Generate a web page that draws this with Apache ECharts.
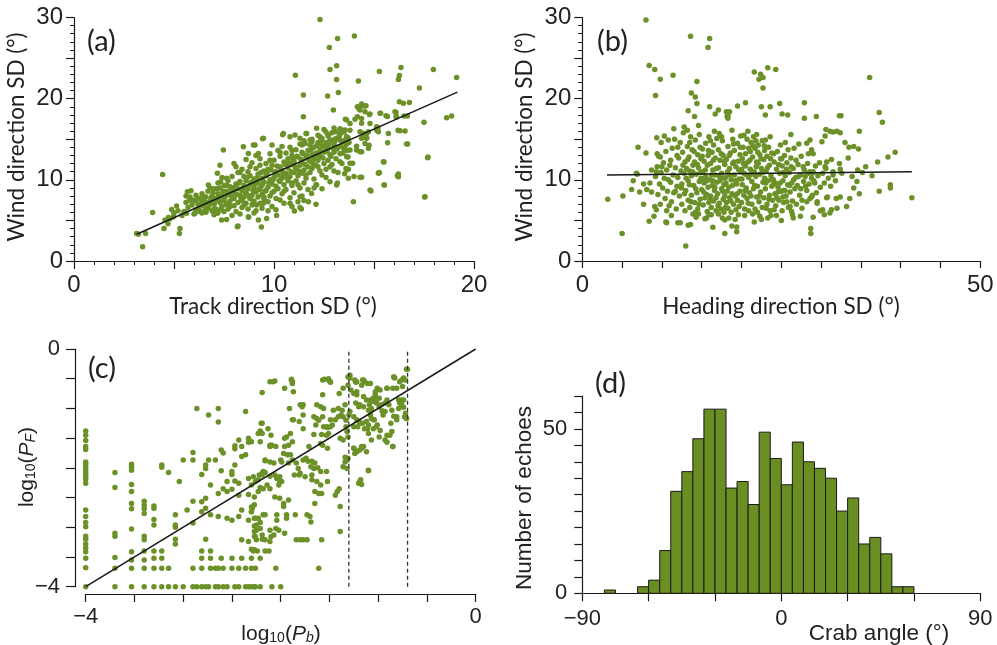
<!DOCTYPE html>
<html><head><meta charset="utf-8">
<script src="https://cdn.jsdelivr.net/npm/echarts@6/dist/echarts.min.js"></script>
<style>html,body{margin:0;padding:0;background:#fff}#c{width:997px;height:645px}</style>
</head><body><div id="c"></div>
<script>
// ---------- Panel (a): Track direction SD vs Wind direction SD ----------
const pointsA = [
[12.3,29.76],[13.18,27.42],[14.02,27.71],[12.77,26.31],
[13.13,24.05],[12.8,23.6],[13.13,22.37],[14.22,22.17],[15.27,23.36],[16.35,23.85],[16.27,22.86],[16.22,22.37],[17.97,23.6],[19.13,22.62],[11.07,22.9],
[11.47,20.44],[12.68,20.32],[13.22,20.77],[17.27,21.3],
[12.97,18.6],[14.17,19.0],[14.38,19.33],[14.6,19.13],[14.3,18.6],[14.17,17.78],[14.05,17.45],[14.77,18.06],[15.3,18.19],[15.6,17.9],[16.27,19.62],[16.47,19.42],[16.77,19.54],[16.05,18.39],[16.1,17.78],[16.67,17.86],[13.57,17.45],[18.63,17.65],[18.88,17.86],[11.47,17.78],
[14.55,18.39],[14.8,18.1],[15.33,18.19],[16.13,17.78],
[14.38,17.57],[14.38,16.96],[14.47,15.72],[14.72,15.93],[15.22,15.93],[15.13,16.54],[15.72,15.72],[16.3,16.05],[16.55,16.01],[15.68,14.57],[16.68,14.41],[17.5,17.08],
[14.38,15.11],[14.63,15.11],[14.55,14.49],[14.72,13.88],[14.38,13.47],
[15.47,12.23],[15.27,10.88],[16.22,10.72],[16.22,10.39],[15.52,9.36],[14.85,8.62],[17.55,7.92],[17.68,12.73],[14.3,10.31],
[13.63,17.37],[13.8,16.95],[14.8,16.95],[13.55,16.13],[14.3,15.93],[14.63,15.72],[15.13,16.13],
[12.13,16.34],[12.3,15.31],[12.72,15.52],[13.1,15.93],[13.38,16.13],[13.63,15.31],[13.3,14.9],[12.97,14.9],
[11.63,15.72],[11.8,14.9],[11.55,14.49],[11.3,15.11],[11.05,15.52],[10.8,15.31],[10.47,15.72],[10.43,15.55],[9.47,15.11],[8.97,14.29],
[14.13,13.67],[13.8,13.67],[13.63,12.85],[13.3,12.23],[13.8,12.03],[13.63,11.21],[14.38,10.31],[13.72,10.18],[12.8,9.77],[13.13,9.36],[14.8,8.74],[13.97,7.31],[15.22,10.8],
[12.13,9.36],[11.88,8.33],[11.72,7.31],[11.3,7.92],[10.8,7.1],[10.3,7.51],[9.47,7.1],[9.13,6.9],
[12.1,7.0],[11.5,7.45],[11.37,6.4],[11.02,6.15],[10.13,5.6],[9.37,4.2],[9.63,5.25],[8.2,4.3],[8.73,5.4],[7.63,5.1],
[4.43,10.67],[3.93,5.99],[3.43,1.75],[3.13,3.4],[3.22,3.3],[3.58,3.4],[5.27,3.4],[5.3,4.0],[4.5,4.0],
[4.55,5.05],[4.72,5.37],[4.97,5.45],[4.88,6.36],[5.13,6.77],
[5.67,8.53],[5.85,8.66],[5.77,7.5],[5.97,7.5],[5.63,5.87],[6.05,5.87],[6.22,6.48],[6.38,7.1],[6.55,7.9],[6.55,6.28],[6.8,7.18],[6.97,6.36],[7.1,7.5],
[6.72,9.36],[7.17,10.8],[7.3,11.8],[7.47,13.67],[7.33,9.77],[7.63,10.18],[7.8,9.15],
[7.17,5.87],[7.38,5.05],[8.17,4.22],[8.72,5.45],[9.22,5.05],
[8.47,14.08],[8.72,13.25],[9.05,14.28],[9.22,13.25],[9.43,15.05],
[16.63,14.4],[16.2,16.1],[17.53,7.9],[17.7,12.8],[16.1,18.3],[16.5,17.85],[15.67,17.8],[14.33,19.1],[14.52,19.1],[14.25,18.75],[15.25,10.9],[15.5,12.2],[15.5,9.35],[16.17,10.5],[15.2,16.45],[14.63,15.2],[14.75,14.25],[14.13,14.15],[14.3,13.45],[14.0,10.4],[13.72,11.3],[13.53,10.75],[13.93,12.05],[13.17,9.6],
[5.6,7.2],[5.7,6.6],[5.8,7.9],[5.9,6.9],[6.0,7.4],[6.1,8.1],[6.1,6.3],[6.2,7.0],[6.3,7.7],[6.3,6.1],[6.4,8.3],[6.5,6.8],[6.5,7.4],[5.5,6.1],[5.4,5.6],[5.2,6.2],[5.0,5.9],[4.8,5.2],[4.7,4.6],[5.6,8.0],[6.0,5.8],[6.6,6.0],
[6.6,7.9],[6.7,6.5],[6.7,8.6],[6.8,7.3],[6.9,6.2],[6.9,8.0],[7.0,7.0],[7.0,8.9],[7.1,6.4],[7.1,7.7],[7.2,8.3],[7.2,6.0],[7.3,7.2],[7.3,9.0],[7.4,6.7],[7.4,8.0],[7.5,7.5],[7.5,9.3],[7.5,6.1],[6.8,9.0],[7.0,5.7],[7.2,9.6],
[7.6,8.6],[7.6,7.0],[7.7,9.9],[7.7,6.4],[7.8,8.1],[7.8,7.4],[7.9,9.0],[7.9,10.4],[8.0,6.8],[8.0,8.5],[8.0,7.7],[8.1,9.5],[8.1,6.1],[8.2,8.9],[8.2,7.2],[8.2,10.9],[8.3,8.1],[8.3,9.8],[8.4,7.5],[8.4,6.6],[8.4,8.7],[8.5,9.3],[8.5,10.4],[8.5,7.9],[7.7,8.3],[8.1,11.6],[8.3,5.8],[7.9,5.6],[8.0,12.0],[8.4,11.3],
[8.6,8.4],[8.6,7.1],[8.6,9.9],[8.7,8.9],[8.7,6.4],[8.7,11.0],[8.8,7.7],[8.8,9.4],[8.8,10.5],[8.9,8.1],[8.9,6.9],[8.9,12.1],[9.0,9.0],[9.0,7.4],[9.0,10.1],[9.1,8.5],[9.1,11.4],[9.1,6.2],[9.2,9.6],[9.2,7.9],[9.2,10.7],[9.3,8.8],[9.3,12.6],[9.3,7.1],[9.4,9.3],[9.4,10.2],[9.4,8.2],[9.5,11.1],[9.5,9.7],[9.5,7.6],[8.6,12.5],[9.0,5.9],[9.4,6.5],[9.1,13.0],
[9.6,8.7],[9.6,10.5],[9.6,12.0],[9.7,9.1],[9.7,7.3],[9.7,11.3],[9.8,8.0],[9.8,10.0],[9.8,13.2],[9.9,9.5],[9.9,11.8],[9.9,6.7],[10.0,10.3],[10.0,8.6],[10.0,12.4],[10.1,9.2],[10.1,11.0],[10.1,7.7],[10.2,10.6],[10.2,13.6],[10.2,8.9],[10.3,9.8],[10.3,11.6],[10.3,12.9],[10.4,10.2],[10.4,8.3],[10.4,11.2],[10.5,9.4],[10.5,12.2],[10.5,7.1],[9.7,6.2],[10.1,6.3],[10.4,14.1],[9.9,14.3],
[10.6,10.8],[10.6,13.3],[10.6,8.8],[10.7,11.5],[10.7,9.9],[10.7,12.6],[10.8,10.4],[10.8,14.0],[10.8,7.8],[10.9,11.9],[10.9,9.3],[10.9,13.0],[11.0,10.9],[11.0,12.3],[11.0,8.4],[11.1,11.4],[11.1,13.7],[11.1,9.9],[11.2,12.8],[11.2,10.5],[11.2,7.3],[11.3,11.8],[11.3,14.4],[11.3,9.0],[11.4,12.2],[11.4,10.8],[11.4,13.4],[11.5,11.2],[11.5,9.6],[11.5,14.8],[10.9,6.7],[11.3,6.6],[11.4,8.0],
[11.6,12.7],[11.6,10.2],[11.7,13.6],[11.7,11.6],[11.7,8.8],[11.8,12.3],[11.8,14.3],[11.8,10.9],[11.9,13.1],[11.9,11.4],[11.9,15.0],[12.0,12.6],[12.0,10.1],[12.0,14.0],[12.1,13.3],[12.1,11.8],[12.1,9.4],[12.2,14.6],[12.2,12.4],[12.2,15.5],[12.3,13.7],[12.3,11.1],[12.3,12.9],[12.4,14.2],[12.4,10.6],[12.4,15.1],[12.5,13.4],[12.5,12.0],[12.5,16.2],[11.6,15.7],[12.0,9.0],[12.4,8.9],
[12.6,14.6],[12.6,11.3],[12.7,13.9],[12.7,15.4],[12.7,12.4],[12.8,14.9],[12.8,13.1],[12.9,15.8],[12.9,11.9],[13.0,14.4],[13.0,13.4],[13.0,16.4],[13.1,15.1],[13.1,12.6],[13.2,14.0],[13.2,10.9],[13.3,15.6],[13.3,13.2],[13.4,14.7],[13.4,12.0],[13.5,15.9],[13.5,13.8],[13.6,14.3],[13.6,11.4],[13.7,15.2],[13.7,12.8],[12.6,10.3],[13.0,11.1],[13.3,16.3],[13.8,16.1],
[6.15,7.6],[6.25,6.6],[6.45,7.9],[6.6,7.2],[6.75,6.9],[6.85,7.7],[6.95,8.4],[6.4,5.9],
[7.05,7.3],[7.15,8.9],[7.25,7.8],[7.35,6.4],[7.45,8.6],[7.55,7.9],[7.65,9.3],[7.75,7.1],[7.85,8.7],[7.95,7.9],[7.4,10.3],[7.8,6.7],
[8.05,9.1],[8.15,8.2],[8.25,9.6],[8.35,7.7],[8.45,9.0],[8.55,8.5],[8.65,10.3],[8.75,8.0],[8.85,9.7],[8.95,8.7],[8.3,10.9],[8.8,11.6],[8.5,6.9],[8.95,7.2],
[9.05,9.5],[9.15,10.2],[9.25,8.9],[9.35,10.9],[9.45,9.9],[9.55,8.6],[9.65,10.8],[9.75,9.6],[9.85,11.2],[9.95,10.0],[9.3,11.8],[9.8,12.4],[9.5,7.9],[9.9,8.4],
[10.05,10.9],[10.15,11.7],[10.25,9.9],[10.35,11.2],[10.45,10.7],[10.55,11.9],[10.65,10.3],[10.75,12.1],[10.85,11.0],[10.95,12.6],[10.3,13.4],[10.9,13.6],[10.5,8.6],[10.9,9.6],
[11.05,11.6],[11.15,12.9],[11.25,11.1],[11.35,12.5],[11.45,13.2],[11.55,11.9],[11.65,13.0],[11.75,12.4],[11.85,13.7],[11.95,12.0],[11.4,14.3],[11.9,14.7],[11.6,10.6],[11.2,9.4],
[12.05,13.0],[12.15,14.2],[12.25,13.1],[12.35,14.8],[12.45,12.7],[12.55,14.0],[12.65,13.5],[12.75,14.4],[12.85,12.9],[12.95,13.9],[12.2,11.6],[12.8,11.6],[12.6,15.9],
[13.05,14.8],[13.15,13.8],[13.25,15.3],[13.35,14.1],[13.45,13.3],[13.55,14.9],[13.65,13.6],[13.75,14.6],[13.4,16.0]
];
const fitA = [[3.13,3.3],[19.17,20.8]];

// ---------- Panel (b): Heading direction SD vs Wind direction SD ----------
const pointsB = [
[8.0,29.7],[13.6,27.7],[16.0,27.4],[15.8,26.3],[8.4,24.1],[9.1,23.6],[9.8,22.4],[11.4,22.9],[9.2,20.4],
[13.7,20.7],[14.2,20.2],[14.4,22.1],[13.3,18.5],[14.1,17.8],[16.7,18.1],[18.2,17.8],[18.1,18.4],[14.4,19.4],[16.0,19.0],[17.1,18.6],[18.3,18.0],[18.3,17.6],[18.5,18.4],[19.5,19.1],[20.5,19.5],
[21.6,23.3],[22.2,22.4],[22.4,23.0],[22.7,22.6],[23.3,23.8],[24.3,23.6],[22.7,21.3],[23.6,19.0],[22.5,19.0],[23.0,18.0],[24.8,19.4],[25.1,18.1],[25.8,18.0],[27.9,19.5],[27.9,17.6],[29.4,17.8],[32.3,17.9],[32.5,17.9],[36.1,22.6],[37.3,18.3],[37.7,17.1],
[39.3,13.4],[38.4,12.8],[37.1,12.2],[38.7,9.4],[38.7,9.0],[37.3,8.6],[41.4,7.8],[35.6,11.6],[34.8,16.0],[34.7,13.8],[34.1,14.1],[33.5,14.0],[33.0,14.6],[32.4,15.8],[32.0,16.0],[31.5,15.9],[31.1,16.0],[32.4,11.3],[32.6,10.8],[31.5,11.0],[32.3,12.0],[30.7,12.2],[30.5,11.6],[30.5,15.4],[30.6,16.2],[30.1,14.7],[28.8,13.7],[29.0,13.2],[28.6,14.9],[28.2,14.5],[28.8,10.2],[29.2,9.6],[28.9,8.1],[35.2,10.9],[33.9,10.4],[33.4,12.7],[34.6,11.2],[36.4,10.5],
[13.0,1.85],[16.4,4.15],[17.9,3.4],[18.8,4.3],[19.4,4.2],[19.4,3.6],[10.6,4.7],[12.0,4.7],[13.3,4.4],[14.6,5.8],[15.6,5.3],[17.9,5.05],[21.6,4.8],[22.5,5.1],[23.7,5.6],[25.0,5.0],[26.5,5.3],[27.4,5.5],[28.7,4.0],[28.7,3.4],[29.0,5.4],[30.4,5.7],[31.1,5.9],[31.3,6.3],[32.0,6.5],[30.2,6.3],[29.9,6.2],[33.2,6.7],[33.6,7.7],[34.1,9.0],[34.8,8.3],[34.5,9.8],[32.4,7.9],[31.9,7.7],[30.7,7.8],[28.6,7.7],[29.5,7.3],[28.2,7.3],[27.6,6.5],[26.4,5.7],[26.3,6.1],[26.1,6.7],[25.3,8.7],[25.7,7.3],[25.2,7.9],[24.6,8.5],[24.0,9.4],
[3.2,7.6],[5.1,8.0],[5.0,3.4],[7.0,14.0],[6.9,10.7],[7.2,8.5],[7.7,7.0],[8.1,8.8],[8.4,4.9],[8.5,9.6],[8.7,8.5],[9.0,5.5],[9.1,6.7],[9.3,11.0],[9.4,13.2],[9.8,12.8],[7.7,9.5],[8.7,11.2],[6.8,10.8],[8.0,13.3],[9.35,15.2],[6.4,9.9],[6.2,8.8],
[9.2,10.4],[9.4,11.6],[9.5,8.2],[9.6,12.9],[9.7,9.5],[9.8,7.0],[9.9,10.9],[9.3,6.3],[9.9,14.6],
[10.1,9.0],[10.2,12.1],[10.3,10.2],[10.4,7.7],[10.5,13.5],[10.6,11.2],[10.7,8.6],[10.8,14.9],[10.9,6.8],[10.3,15.4],[10.5,4.8],[10.8,10.0],
[11.1,9.7],[11.1,12.4],[11.2,7.3],[11.3,13.9],[11.4,10.6],[11.5,8.4],[11.6,15.0],[11.7,11.5],[11.8,6.4],[11.9,13.0],[11.2,5.6],[11.9,9.2],[11.5,16.3],
[12.0,10.3],[12.1,12.7],[12.2,8.0],[12.3,14.6],[12.4,11.1],[12.5,7.0],[12.5,9.5],[12.6,13.4],[12.7,15.8],[12.8,10.8],[12.9,6.2],[12.9,12.2],[12.3,4.7],[12.8,16.5],
[13.0,8.7],[13.1,11.4],[13.2,14.1],[13.3,7.5],[13.3,9.9],[13.4,12.8],[13.5,6.6],[13.6,15.3],[13.7,10.5],[13.7,8.1],[13.8,13.7],[13.9,11.8],[13.9,5.8],[13.2,16.1],[13.6,4.5],
[14.0,9.3],[14.1,12.2],[14.1,7.2],[14.2,14.9],[14.3,10.7],[14.4,8.4],[14.5,13.1],[14.5,6.4],[14.6,11.5],[14.7,9.8],[14.7,15.6],[14.8,7.6],[14.9,12.6],[14.9,10.2],[14.3,5.4],[14.6,16.7],
[15.0,8.8],[15.1,11.0],[15.1,13.8],[15.2,6.9],[15.3,9.6],[15.3,12.3],[15.4,7.8],[15.5,14.5],[15.5,10.4],[15.6,8.2],[15.7,11.8],[15.7,6.1],[15.8,13.0],[15.8,9.1],[15.9,15.3],[15.9,7.2],[15.4,5.2],
[16.0,10.0],[16.1,12.0],[16.1,8.0],[16.2,6.6],[16.3,13.4],[16.3,9.3],[16.4,11.2],[16.5,7.4],[16.5,14.3],[16.6,8.7],[16.7,10.6],[16.7,12.7],[16.8,6.2],[16.9,9.7],[16.9,15.1],[16.2,5.7],[16.6,16.0],[16.8,7.8],
[17.0,8.3],[17.1,11.5],[17.1,13.7],[17.2,7.1],[17.3,9.9],[17.3,12.4],[17.4,6.4],[17.5,8.9],[17.5,10.8],[17.6,14.8],[17.7,7.6],[17.7,13.0],[17.8,9.4],[17.8,6.0],[17.9,11.9],[17.9,8.0],[17.2,15.7],[17.6,5.3],
[18.0,10.3],[18.1,7.2],[18.1,12.5],[18.2,8.6],[18.3,14.1],[18.3,6.5],[18.4,9.1],[18.5,11.4],[18.5,7.8],[18.6,13.3],[18.7,6.0],[18.7,10.0],[18.8,8.3],[18.9,12.0],[18.9,15.0],[18.4,5.3],[18.8,16.1],
[19.0,7.0],[19.1,10.6],[19.1,13.6],[19.2,8.0],[19.3,11.6],[19.3,6.3],[19.4,9.5],[19.5,14.5],[19.5,7.5],[19.6,12.3],[19.7,10.1],[19.7,6.7],[19.8,8.6],[19.8,13.1],[19.9,11.0],[19.9,15.4],[19.2,5.1],
[20.0,7.2],[20.1,9.4],[20.1,12.6],[20.2,14.0],[20.3,8.1],[20.3,10.8],[20.4,6.4],[20.5,13.2],[20.5,11.7],[20.6,9.0],[20.7,15.0],[20.7,7.7],[20.8,12.2],[20.9,10.3],[20.9,13.9],[20.4,5.6],[20.8,16.0],
[21.0,8.4],[21.1,11.3],[21.1,13.5],[21.2,14.6],[21.3,7.0],[21.3,9.8],[21.4,12.8],[21.5,15.3],[21.5,8.9],[21.6,11.0],[21.7,13.9],[21.7,6.4],[21.8,10.4],[21.9,12.2],[21.9,7.9],[21.4,5.8],[21.8,14.8],
[22.0,9.2],[22.1,12.0],[22.1,14.3],[22.2,7.3],[22.3,10.7],[22.3,13.1],[22.4,8.5],[22.5,11.4],[22.6,6.6],[22.6,14.8],[22.7,9.7],[22.8,12.5],[22.8,7.8],[22.9,10.2],[22.9,13.6],[22.3,5.5],
[23.0,8.9],[23.1,11.1],[23.2,12.9],[23.2,7.0],[23.3,9.9],[23.4,14.0],[23.5,8.1],[23.5,11.8],[23.6,6.2],[23.7,10.5],[23.8,13.3],[23.8,9.2],[23.9,7.5],[23.3,5.3],[23.6,15.3],
[24.0,10.0],[24.1,12.2],[24.2,8.3],[24.3,6.8],[24.4,11.3],[24.5,13.5],[24.6,9.1],[24.7,7.5],[24.8,10.8],[24.9,12.6],[24.4,5.6],[24.9,14.3],
[25.0,8.6],[25.1,11.7],[25.2,9.9],[25.3,7.2],[25.4,13.0],[25.5,10.5],[25.6,8.0],[25.7,12.1],[25.8,9.4],[25.9,6.6],[25.5,14.6],
[26.0,10.9],[26.1,8.5],[26.2,12.7],[26.3,9.6],[26.4,7.4],[26.5,11.4],[26.6,13.9],[26.7,8.9],[26.8,10.3],[26.9,7.0],[26.2,15.6],
[27.0,9.3],[27.1,11.9],[27.3,8.1],[27.4,10.6],[27.5,12.9],[27.6,7.5],[27.8,9.8],[27.9,11.2],[27.2,14.4],
[28.0,10.4],[28.2,8.7],[28.3,12.0],[28.5,9.5],[28.6,11.0],[28.8,7.9],[28.9,10.8],[28.4,13.2],
[29.1,9.9],[29.3,11.7],[29.4,8.4],[29.6,10.5],[29.8,12.1],[29.9,9.1],[29.5,7.1],
[30.2,10.8],[30.4,9.6],[30.6,11.4],[30.9,10.2],[31.2,9.2],[31.5,10.6],[31.8,9.9],[30.8,7.9],[31.3,12.5],
[12.45,9.0],[12.65,11.8],[12.85,8.3],[13.05,10.2],[13.25,12.5],[13.45,9.4],[13.65,7.3],[13.85,11.0],[14.05,13.5],[14.25,8.9],[14.45,11.9],[14.65,7.0],[14.85,10.9],[15.05,12.9],[15.25,8.5],[15.45,11.2],[15.65,9.9],[15.85,13.6],[16.05,7.6],[16.25,10.6],[16.45,12.4],[16.65,9.1],[16.85,11.4],[17.05,6.8],[17.25,10.4],[17.45,13.2],[17.65,8.6],[17.85,12.3],[18.05,9.6],[18.25,11.0],[18.45,13.0],[18.65,7.4],[18.85,9.3],[19.05,12.2],[19.25,9.9],[19.45,8.3],[19.65,11.2],[19.85,14.0],[20.05,10.1],[20.25,12.0],[20.45,8.7],[20.65,10.6],[20.85,7.1],[21.05,12.4],[21.25,10.7],[21.45,14.2],[21.65,9.3],[21.85,11.6],[22.05,13.4],[22.25,8.0],[22.45,12.6],[22.65,10.9],[22.85,14.2],[23.05,9.6],[23.25,11.5],[23.45,7.6],[23.65,12.6],[23.85,10.0],[24.05,13.2],[24.25,9.6],[24.45,7.8],[24.65,11.9],[24.85,9.6],[25.05,12.6],[25.25,10.9],[25.45,8.7],[25.65,11.3],[25.85,13.7],[26.05,9.3],[26.25,11.6],[26.55,10.0],[26.85,12.4],[27.15,10.4],[27.45,8.9],[27.75,11.6],[28.05,9.2],[28.45,10.8],[29.0,11.0],
[13.5,14.6],[14.8,14.0],[16.1,14.8],[17.5,15.3],[19.0,14.4],[20.3,15.5],[21.9,15.6],[23.0,14.9],[14.2,6.0],[15.9,5.7],[17.1,5.8],[18.0,6.6],[19.6,5.7],[20.9,6.2],[22.0,6.0],[23.1,6.5],[24.1,6.3],[25.1,6.2],[11.7,8.6],[11.0,11.8],[10.6,6.2],[12.0,14.0],[10.0,11.6],[16.4,9.9],[18.5,10.6],[20.0,11.3],[21.2,8.0],[17.8,10.2],[15.1,10.1],[13.5,11.1]
];
const fitB = [[3.1,10.6],[41.4,11.0]];

// ---------- Panel (c): log10(Pb) vs log10(PF) ----------
const pointsC = [
[-4,-1.38],[-4,-1.45],[-4,-1.54],[-4,-1.64],[-4,-1.69],[-4,-1.90],[-4,-1.94],[-4,-1.99],[-4,-2.05],[-4,-2.09],[-4,-2.14],[-4,-2.19],[-4,-2.26],[-4,-2.71],[-4,-2.82],[-4,-2.92],[-4,-2.99],[-4,-3.15],[-4,-3.20],[-4,-3.28],[-4,-3.35],[-4,-3.41],[-4,-3.52],[-4,-3.68],[-4,-4.0],
[-3.70,-2.08],[-3.70,-2.33],[-3.70,-3.10],[-3.70,-3.15],[-3.70,-3.51],[-3.70,-3.69],[-3.70,-4],
[-3.53,-1.94],[-3.53,-1.99],[-3.53,-2.04],[-3.53,-2.28],[-3.53,-2.40],[-3.53,-2.60],[-3.53,-2.69],[-3.53,-3.03],[-3.53,-3.41],[-3.53,-3.55],[-3.53,-3.69],[-3.53,-4],
[-3.40,-2.56],[-3.40,-2.63],[-3.40,-2.69],[-3.40,-2.77],[-3.40,-3.15],[-3.40,-3.21],[-3.40,-3.40],[-3.40,-3.55],[-3.40,-3.69],[-3.40,-4],
[-3.30,-2.64],[-3.30,-2.68],[-3.30,-2.87],[-3.30,-2.96],[-3.30,-3.40],[-3.30,-3.52],[-3.30,-3.69],[-3.30,-4],
[-3.22,-1.95],[-3.22,-1.99],[-3.22,-3.40],[-3.22,-3.52],[-3.22,-3.69],[-3.22,-4],
[-3.15,-2.08],[-3.15,-3.69],[-3.15,-4],
[-3.08,-2.79],[-3.08,-2.96],[-3.08,-3.0],[-3.08,-3.20],[-3.08,-3.28],[-3.08,-4],[-3.04,-2.23],[-3.0,-1.87],[-3.0,-4],[-2.96,-2.71],
[-2.90,-1.74],[-2.90,-1.87],[-2.90,-2.56],[-2.90,-2.93],[-2.90,-3.69],[-2.90,-4],[-2.86,-1.0],[-2.86,-4],
[-2.81,-2.11],[-2.81,-2.57],[-2.81,-2.74],[-2.81,-3.40],[-2.81,-3.52],[-2.81,-3.69],[-2.81,-4],
[-2.77,-2.01],[-2.77,-1.95],[-2.77,-2.51],[-2.77,-2.68],[-2.77,-3.20],[-2.77,-4],
[-2.74,-1.11],[-2.74,-1.87],[-2.74,-4],[-2.72,-2.29],[-2.72,-2.79],[-2.72,-3.40],[-2.72,-3.52],[-2.72,-3.69],
[-2.67,-3.69],[-2.67,-4],[-2.67,-1.87],
[-2.64,-1.0],[-2.64,-1.23],[-2.64,-2.43],[-2.64,-2.82],[-2.64,-3.69],[-2.64,-4],
[-2.61,-1.70],[-2.61,-2.05],[-2.61,-3.52],[-2.59,-1.75],[-2.59,-2.35],[-2.59,-3.69],[-2.59,-4],
[-2.55,-2.23],[-2.55,-2.40],[-2.55,-2.85],[-2.55,-4],
[-2.50,-2.06],[-2.50,-2.11],[-2.50,-2.36],[-2.50,-2.88],[-2.50,-3.52],[-2.50,-3.69],
[-2.47,-1.63],[-2.47,-1.68],[-2.47,-1.95],[-2.47,-2.22],[-2.47,-4],
[-2.43,-1.53],[-2.43,-2.26],[-2.43,-2.46],[-2.43,-2.82],[-2.43,-3.69],[-2.43,-4],
[-2.40,-1.64],[-2.40,-1.81],[-2.40,-2.71],[-2.40,-3.21],[-2.40,-3.52],
[-2.36,-1.05],[-2.36,-1.78],[-2.36,-4],[-2.36,-3.69],
[-2.33,-1.50],[-2.33,-1.57],[-2.33,-2.18],[-2.33,-2.45],[-2.33,-2.88],[-2.33,-3.24],[-2.33,-4],
[-2.30,-1.56],[-2.30,-2.29],[-2.30,-2.66],[-2.30,-2.74],[-2.30,-3.37],[-2.30,-3.52],[-2.30,-3.69],
[-2.27,-2.49],[-2.27,-2.62],[-2.27,-2.85],[-2.27,-2.98],[-2.27,-3.07],[-2.27,-3.15],[-2.27,-3.38],[-2.27,-4],
[-2.21,-1.38],[-2.21,-2.33],[-2.21,-2.92],[-2.21,-3.02],[-2.21,-3.52],[-2.21,-4],
[-2.19,-0.73],[-2.19,-1.25],[-2.19,-1.42],[-2.19,-2.09],[-2.19,-3.13],[-2.19,-3.20],
[-2.16,-1.88],[-2.16,-2.08],[-2.16,-2.79],[-2.16,-3.21],[-2.16,-3.40],
[-2.11,-0.55],[-2.11,-1.62],[-2.11,-2.14],[-2.11,-2.35],[-2.11,-3.05],[-2.11,-3.24],
[-2.06,-0.54],[-1.96,-0.66],[-1.89,-0.51],[-1.88,-0.55],[-1.87,-0.72],[-1.55,-0.51],[-1.50,-0.54],[-1.49,-0.56],[-1.57,-0.77],
[-1.29,-0.49],[-1.23,-0.56],[-1.22,-0.72],[-1.22,-0.77],[-1.15,-0.52],[-1.11,-0.58],[-1.01,-0.66],[-1.03,-0.77],[-1.04,-0.83],
[-0.91,-0.66],[-0.84,-0.47],[-0.85,-0.66],[-0.76,-0.52],[-0.74,-0.49],[-0.71,-0.34],[-0.79,-0.86],[-0.74,-0.86],[-0.76,-0.94],
[-0.71,-1.17],[-0.73,-1.14],[-0.81,-1.14],[-0.87,-1.25],[-0.86,-1.39],[-0.88,-1.45],[-0.93,-1.53],[-0.91,-1.57],[-0.85,-1.64],[-0.99,-1.48],
[-1.05,-1.34],[-1.01,-1.28],[-1.04,-1.19],[-1.10,-1.03],[-1.07,-1.0],[-1.12,-1.22],[-1.16,-1.25],[-1.20,-1.22],[-1.25,-1.31],[-1.21,-1.31],
[-1.19,-0.94],[-1.15,-0.97],[-1.08,-0.86],[-1.05,-0.88],[-1.02,-0.91],[-0.99,-0.83],[-0.97,-0.94],[-0.93,-1.05],[-1.08,-1.11],[-1.07,-1.17],[-1.11,-1.34],[-1.10,-1.28],
[-1.29,-1.05],[-1.37,-1.03],[-1.36,-1.14],[-1.33,-1.2],[-1.30,-1.11],[-1.33,-1.31],[-1.32,-1.39],[-1.31,-1.48],[-1.39,-1.50],[-1.36,-1.53],
[-1.25,-1.67],[-1.22,-1.73],[-1.17,-1.67],[-1.15,-1.64],[-1.12,-1.73],[-1.32,-1.87],[-1.34,-1.90],[-1.31,-1.84],[-1.32,-2.01],[-1.10,-2.05],[-1.19,-2.23],[-1.17,-2.28],
[-1.39,-3.07],[-1.40,-2.35],[-1.42,-2.40],[-1.44,-2.46],[-1.39,-2.65],
[-1.44,-1.19],[-1.47,-1.28],[-1.49,-1.19],[-1.52,-1.32],[-1.41,-1.14],[-1.38,-1.11],[-1.46,-1.03],[-1.41,-1.0],[-1.40,-0.75],[-1.36,-0.66],[-1.34,-0.94],
[-1.63,-0.94],[-1.59,-0.97],[-1.56,-1.0],[-1.66,-1.14],[-1.63,-1.17],[-1.61,-1.2],[-1.57,-1.14],[-1.56,-1.31],[-1.53,-1.31],[-1.49,-1.31],
[-1.51,-1.42],[-1.53,-1.45],[-1.58,-1.44],[-1.66,-1.44],[-1.64,-1.28],[-1.59,-1.59],[-1.57,-1.62],[-1.52,-1.67],[-1.71,-1.64],
[-1.72,-1.89],[-1.68,-1.89],[-1.65,-1.92],[-1.69,-1.98],[-1.66,-2.01],[-1.62,-2.0],[-1.59,-2.06],[-1.53,-2.06],
[-1.68,-2.12],[-1.68,-2.2],[-1.63,-2.23],[-1.59,-2.29],[-1.52,-2.23],[-1.65,-2.40],[-1.61,-2.43],[-1.58,-2.43],
[-1.80,-2.09],[-1.75,-2.15],[-1.77,-1.87],[-1.74,-1.84],[-1.80,-0.94],[-1.78,-0.97],[-1.77,-0.94],[-1.81,-1.22],[-1.77,-1.11],[-1.77,-1.34],
[-1.91,-1.0],[-1.88,-1.19],[-1.87,-1.19],[-1.90,-1.42],[-1.94,-1.48],[-1.96,-1.5],[-1.88,-1.56],[-1.92,-1.62],[-1.96,-1.64],
[-1.97,-1.76],[-1.93,-1.78],[-1.90,-1.78],[-2.0,-1.87],[-1.99,-1.90],[-1.92,-1.92],[-1.88,-1.87],[-1.84,-1.92],[-1.82,-2.01],[-1.86,-2.12],[-1.81,-2.12],
[-2.05,-1.64],[-2.09,-1.62],[-2.11,-1.64],[-2.10,-1.45],[-2.13,-1.34],[-2.20,-1.25],[-2.23,-1.42],[-2.21,-1.56],
[-2.16,-1.87],[-2.11,-1.9],[-2.07,-1.92],[-2.18,-2.06],[-2.19,-2.12],[-2.23,-2.2],[-2.22,-2.12],
[-2.06,-2.12],[-2.04,-2.18],[-2.01,-2.23],[-2.01,-2.15],[-1.99,-2.23],[-2.02,-2.29],[-2.28,-2.15],[-2.26,-2.23],
[-2.14,-2.29],[-2.23,-2.40],[-2.18,-2.35],[-2.06,-2.49],[-2.01,-2.51],[-1.97,-2.6],[-1.92,-2.54],[-1.97,-2.65],
[-2.04,-2.79],[-2.04,-2.88],[-1.94,-2.79],[-1.94,-2.85],[-1.85,-2.79],[-1.73,-2.79],[-1.70,-2.82],[-1.69,-2.91],[-1.65,-2.6],
[-1.96,-3.10],[-2.02,-3.05],[-2.05,-3.02],[-2.10,-3.16],[-2.07,-3.13],[-1.84,-3.21],[-1.80,-3.21],[-1.77,-3.21],[-1.73,-3.21],[-1.58,-3.21],
[-2.25,-3.05],[-2.26,-3.16],[-2.25,-3.21],[-2.26,-2.85],[-2.23,-2.85],[-2.25,-2.96],[-2.29,-2.68],[-2.30,-2.74],[-2.18,-2.79],
[-2.28,-3.40],[-2.24,-3.40],[-2.12,-3.40],[-2.26,-3.69],[-2.05,-3.69],[-1.61,-3.69],[-2.30,-4],[-2.26,-4],[-2.09,-4],[-2.00,-4],
[-1.31,-0.61],[-1.28,-0.69],[-1.25,-0.75],[-1.23,-0.91],[-1.20,-0.97],[-1.15,-0.80],[-1.12,-0.86],[-1.09,-0.94],[-1.07,-1.02],[-1.05,-0.83],[-1.02,-0.89],[-0.99,-0.97],[-0.96,-1.04],[-0.95,-1.11],
[-0.93,-0.91],[-0.91,-0.86],[-0.89,-0.94],[-0.86,-1.03],[-0.84,-1.13],[-0.81,-1.19],[-0.79,-1.0],[-0.78,-0.91],[-0.76,-0.86],[-0.74,-0.98],[-0.72,-1.08],[-0.71,-1.17],
[-1.05,-1.19],[-1.02,-1.31],[-0.98,-1.37],[-0.91,-1.45],[-0.85,-1.64],[-0.81,-0.66],[-0.78,-0.55],[-0.75,-0.63],[-0.72,-0.52],[-0.84,-0.47],[-0.83,-0.49],
[-0.91,-0.66],[-0.98,-0.69],[-1.03,-0.72],[-1.08,-0.58],[-1.14,-0.55],[-1.17,-0.61],[-1.24,-0.52],[-1.29,-0.44],
[-1.25,-1.14],[-1.22,-1.19],[-1.18,-1.25],[-1.14,-1.34],[-1.10,-1.42],[-1.07,-1.53],[-1.17,-1.64],[-1.19,-1.70],[-1.25,-1.67],[-1.24,-1.76],
[-1.20,-2.26],[-1.18,-2.20],[-1.10,-2.04],[-1.32,-1.87],[-1.36,-1.98],[-1.34,-1.82],
[-2.08,-0.55],[-1.89,-0.52],[-1.88,-0.58],[-1.57,-0.52],[-1.51,-0.50],[-1.49,-0.55],[-1.31,-0.47],[-1.22,-0.55],[-1.16,-0.52],[-0.70,-0.34]
];
const refLineC = [[-4,-4],[0,0]];
const thresholdsC = [-1.301, -0.699];

// ---------- Panel (d): crab angle histogram ----------
const binStartsD = [-80,-65,-60,-55,-50,-45,-40,-35,-30,-25,-20,-15,-10,-5,0,5,10,15,20,25,30,35,40,45,50,55];
const countsD    = [1,2,4,13,31,37,47,56,56,32,34,27,49,41,33,46,40,38,35,25,29,15,17,12,2,2];
const binWidthD = 5;

// ---------- styles ----------
const GREEN = '#6b9128';
const BAR = '#6b8e23';
const INK = '#1a1a1a';
const TICKFONT = '"Liberation Sans", Arial, sans-serif';
const TITLEFONT = 'Lato, "Liberation Sans", sans-serif';
const minus = v => String(v).replace('-', '\u2212');

function axis(gi, min, max, interval, show, o) {
  o = o || {};
  return {
    type: 'value', gridIndex: gi, min: min, max: max, interval: interval,
    offset: o.offset || 0,
    axisLine: { show: true, onZero: false, lineStyle: { color: INK, width: 1.2 } },
    axisTick: { show: true, inside: false, length: o.tick || 8, lineStyle: { color: INK, width: 1.2 } },
    minorTick: o.minor ? { show: true, splitNumber: o.minor, length: 4, lineStyle: { color: INK, width: 1 } } : { show: false },
    splitLine: { show: false },
    axisLabel: {
      show: true, margin: o.margin || 12, fontSize: o.fs || 22, fontFamily: TICKFONT, color: '#222',
      formatter: v => (show.indexOf(v) >= 0 ? minus(v) : '')
    }
  };
}

const chart = echarts.init(document.getElementById('c'), null, { renderer: 'canvas' });

const scatter = (gi, data) => ({
  type: 'scatter', xAxisIndex: gi, yAxisIndex: gi, data: data, symbolSize: 5.5,
  itemStyle: { color: GREEN, opacity: 1 }, silent: true
});
const line = (gi, data, extra) => Object.assign({
  type: 'line', xAxisIndex: gi, yAxisIndex: gi, data: data, showSymbol: false, symbol: 'none',
  lineStyle: { color: INK, width: 1.5 }, silent: true, z: 5
}, extra || {});

const txt = (text, x, y, font, rot, align) => ({
  type: 'text', x: x, y: y, rotation: rot || 0, silent: true,
  style: { text: text, font: font, fill: '#222', align: align || 'center', verticalAlign: 'middle' }
});
const richLog = (sub, x, y, rot) => ({
  type: 'text', x: x, y: y, rotation: rot || 0, silent: true,
  style: {
    text: '{n|log}{s|10}{n|(}{i|P}{si|' + sub + '}{n|)}',
    align: 'center', verticalAlign: 'middle', fill: '#222',
    rich: {
      n: { fontSize: 21, fontFamily: TICKFONT, fill: '#222', verticalAlign: 'bottom', lineHeight: 26 },
      i: { fontSize: 21, fontFamily: TICKFONT, fontStyle: 'italic', fill: '#222', verticalAlign: 'bottom', lineHeight: 26 },
      s: { fontSize: 14, fontFamily: TICKFONT, fill: '#222', verticalAlign: 'bottom', lineHeight: 20 },
      si: { fontSize: 14, fontFamily: TICKFONT, fontStyle: 'italic', fill: '#222', verticalAlign: 'bottom', lineHeight: 20 }
    }
  }
});

const option = {
  animation: false,
  backgroundColor: '#fff',
  grid: [
    { left: 74, top: 17.5, width: 400, height: 243.5 },
    { left: 582.3, top: 17.5, width: 398, height: 243.5 },
    { left: 85.7, top: 349, width: 390, height: 237.7 },
    { left: 582.3, top: 396, width: 398, height: 197.3 }
  ],
  xAxis: [
    axis(0, 0, 20, 5, [0, 10, 20], { minor: 5, margin: 12, fs: 24 }),
    axis(1, 0, 50, 5, [0, 50], { margin: 12, tick: 7, fs: 24 }),
    axis(2, -4, 0, 0.5, [-4, 0], { offset: 7.3, margin: 12, tick: 8 }),
    axis(3, -90, 90, 30, [-90, 0, 90], { margin: 15, tick: 8 })
  ],
  yAxis: [
    axis(0, 0, 30, 5, [0, 10, 20, 30], { minor: 5, margin: 11, fs: 24 }),
    axis(1, 0, 30, 5, [0, 10, 20, 30], { minor: 5, margin: 11, fs: 24 }),
    axis(2, -4, 0, 0.5, [-4, 0], { offset: 10.7, margin: 15, tick: 9 }),
    axis(3, 0, 60, 5, [0, 50], { margin: 15, tick: 8 })
  ],
  series: [
    scatter(0, pointsA),
    line(0, fitA),
    scatter(1, pointsB),
    line(1, fitB),
    scatter(2, pointsC),
    line(2, refLineC),
    line(2, [[thresholdsC[0], -4], [thresholdsC[0], 0]], { lineStyle: { color: '#333', width: 1.3, type: [4, 3] } }),
    line(2, [[thresholdsC[1], -4], [thresholdsC[1], 0]], { lineStyle: { color: '#333', width: 1.3, type: [4, 3] } }),
    {
      type: 'custom', xAxisIndex: 3, yAxisIndex: 3, silent: true,
      data: binStartsD.map((s, i) => [s, s + binWidthD, countsD[i]]),
      encode: { x: [0, 1], y: 2 },
      renderItem: function (params, api) {
        const p0 = api.coord([api.value(0), 0]);
        const p1 = api.coord([api.value(1), api.value(2)]);
        return {
          type: 'rect',
          shape: { x: p0[0], y: p1[1], width: p1[0] - p0[0], height: p0[1] - p1[1] },
          style: { fill: BAR, stroke: INK, lineWidth: 1 }
        };
      }
    }
  ],
  graphic: [
    txt('(a)', 87, 42, '29px ' + TITLEFONT, 0, 'left'),
    txt('(b)', 597, 42, '29px ' + TITLEFONT, 0, 'left'),
    txt('(c)', 88, 369, '29px ' + TITLEFONT, 0, 'left'),
    txt('(d)', 595, 384, '29px ' + TITLEFONT, 0, 'left'),
    txt('Track direction SD (°)', 273, 307, '22.5px ' + TITLEFONT),
    txt('Wind direction SD (°)', 17, 137, '22.5px ' + TITLEFONT, Math.PI / 2),
    txt('Heading direction SD (°)', 781, 307, '22.5px ' + TITLEFONT),
    txt('Wind direction SD (°)', 525, 137, '22.5px ' + TITLEFONT, Math.PI / 2),
    richLog('F', 25, 467, Math.PI / 2),
    richLog('b', 281, 632, 0),
    txt('Number of echoes', 525, 498, '22.5px ' + TICKFONT, Math.PI / 2),
    txt('Crab angle (°)', 879, 634, '22.5px ' + TICKFONT)
  ]
};
chart.setOption(option);
</script>
</body></html>
